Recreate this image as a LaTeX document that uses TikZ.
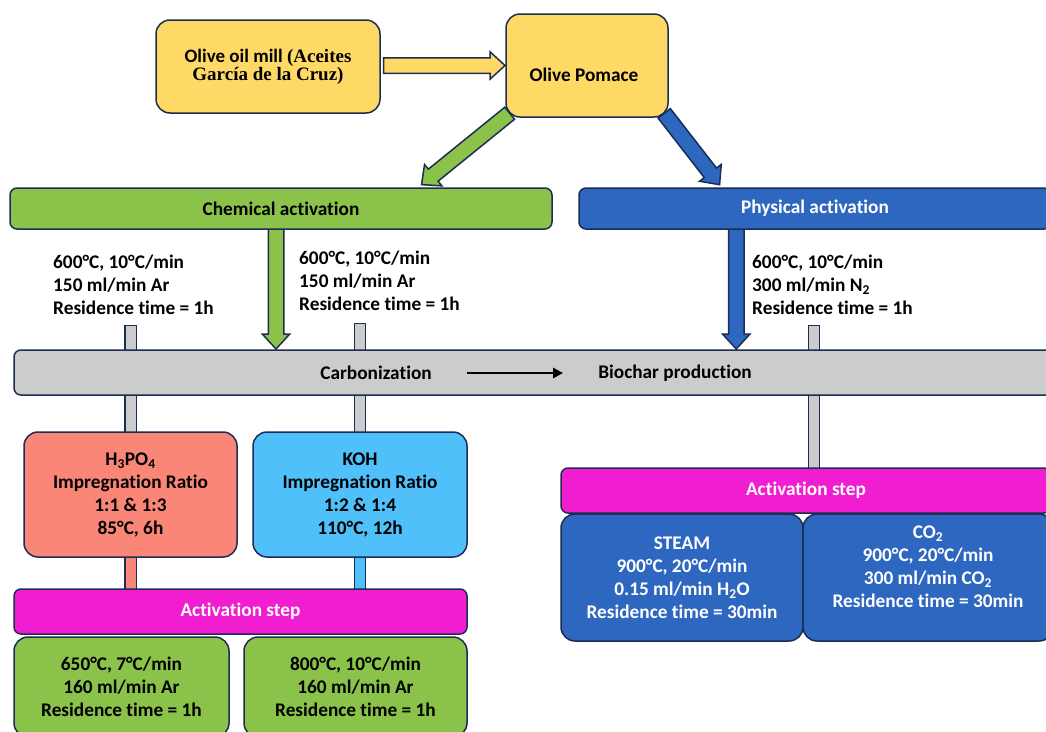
\documentclass[tikz,border=0pt]{standalone}
\usepackage{fontspec}
\setmainfont{Carlito}[Ligatures=NoCommon, RawFeature={-liga;-clig;-calt}]
\newfontfamily\serifbf{Liberation Serif}
\usetikzlibrary{arrows.meta,shapes.arrows,calc,backgrounds}

\definecolor{navy}{RGB}{28,44,82}
\definecolor{oliveyellow}{RGB}{255,217,102}
\definecolor{chemgreen}{RGB}{139,195,74}
\definecolor{physblue}{RGB}{46,103,192}
\definecolor{carbgray}{RGB}{204,204,204}
\definecolor{salmon}{RGB}{250,134,120}
\definecolor{skyblue}{RGB}{80,192,250}
\definecolor{actpink}{RGB}{240,30,208}

% fat outlined arrow from #1 to #2, filled with #3
\newcommand{\bigarrow}[3]{%
  \path let \p1=(#1), \p2=(#2), \n1={atan2(\y2-\y1,\x2-\x1)},
    \n2={veclen(\x2-\x1,\y2-\y1)} in
    node[bigarr, fill=#3, minimum height=\n2, rotate=\n1, anchor=tail] at (\p1) {};}

\tikzset{
  txt/.style={font=\fontsize{19.3}{23}\selectfont\bfseries},
  box/.style={txt, draw=navy, line width=1.5pt, rounded corners=14pt,
    align=center, inner sep=0pt},
  bar/.style={box, rounded corners=7pt},
  info/.style={txt, align=left, inner sep=0pt},
  stem/.style={draw=navy, double=#1, double distance=10pt, line width=1.2pt,
    line cap=rect},
  stem/.default=carbgray,
  bigarr/.style={single arrow, draw=navy, line width=1.5pt,
    single arrow head extend=6pt, single arrow tip angle=85,
    inner sep=0pt, text height=7pt, text depth=7pt}
}

\begin{document}
\begin{tikzpicture}[x=1pt,y=-1pt]
  \useasboundingbox (0,0) rectangle (1046,731);
  \clip (0,0) rectangle (1046,731);

  % Source
  \node[box, fill=oliveyellow, minimum width=224, minimum height=93,
    font=\fontsize{19}{18}\selectfont\bfseries] (mill) at (268,66.5)
    {Olive oil mill {\serifbf(Aceites}\\{\serifbf García de la Cruz)}};
  \node[box, fill=oliveyellow, minimum width=162, minimum height=103] (pomace) at (587,65.5) {};
  \node[txt] (pomacetext) at (584,75) {Olive Pomace};

  % Activation routes
  \node[bar, fill=chemgreen, minimum width=542, minimum height=41] (chem) at (281,208.5) {Chemical activation};
  \node[bar, fill=physblue, text=white, minimum width=472, minimum height=41] (phys) at (815,208.5) {Physical activation};

  % Carbonization conditions
  \node[info, anchor=west] (t1) at (53,285) {600°C, 10°C/min\\150 ml/min Ar\\Residence time = 1h};
  \node[info, anchor=west] (t2) at (299,281) {600°C, 10°C/min\\150 ml/min Ar\\Residence time = 1h};
  \node[info, anchor=west] (t3) at (752,285) {600°C, 10°C/min\\300 ml/min N\textsubscript{2}\\Residence time = 1h};

  % Carbonization
  \node[bar, fill=carbgray, minimum width=1040, minimum height=45] (carb) at (534,372.5) {};
  \node[txt, inner sep=0pt] (cz) at (376,373) {Carbonization};
  \node[txt, inner sep=0pt] (bp) at (675,373) {Biochar production};
  \draw[line width=2.5pt, -{Triangle[length=10pt,width=10pt]}] ($(cz.east)+(35,0)$) -- ($(bp.west)+(-35,0)$);

  % Chemical branch
  \node[box, fill=salmon, minimum width=213, minimum height=125] (h3) at (130.5,494.5)
    {H\textsubscript{3}PO\textsubscript{4}\\Impregnation Ratio\\1:1 \& 1:3\\85°C, 6h};
  \node[box, fill=skyblue, minimum width=214, minimum height=125] (koh) at (360,494.5)
    {KOH\\Impregnation Ratio\\1:2 \& 1:4\\110°C, 12h};
  \node[bar, fill=actpink, text=white, minimum width=453, minimum height=45] (actL) at (240.5,611.5) {Activation step};
  \node[box, fill=chemgreen, minimum width=215, minimum height=100] (g1) at (121.5,687)
    {650°C, 7°C/min\\160 ml/min Ar\\Residence time = 1h};
  \node[box, fill=chemgreen, minimum width=223, minimum height=100] (g2) at (355.5,687)
    {800°C, 10°C/min\\160 ml/min Ar\\Residence time = 1h};

  % Physical branch
  \coordinate (rstub) at (814,0);
  \node[bar, fill=actpink, text=white, minimum width=490, minimum height=45] (actR) at (806,490.5) {Activation step};
  \node[box, fill=physblue, text=white, minimum width=242, minimum height=127] (steam) at (682,577.5)
    {STEAM\\900°C, 20°C/min\\0.15 ml/min H\textsubscript{2}O\\Residence time = 30min};
  \node[box, fill=physblue, minimum width=250, minimum height=127] (co2) at (928,577.5) {};
  \node[txt, text=white, align=center] (co2text) at (928,567)
    {CO\textsubscript{2}\\900°C, 20°C/min\\300 ml/min CO\textsubscript{2}\\Residence time = 30min};

  \begin{pgfonlayer}{background}
    % Arrows
    \bigarrow{$(mill.east)+(2,-1)$}{$(pomace.west)+(-1,0)$}{oliveyellow}
    \bigarrow{$(pomace.south west)+(5,-5)$}{$(chem.north)+(141,-3)$}{chemgreen}
    \bigarrow{$(pomace.south east)+(-5,-5)$}{$(phys.north west)+(141,-3)$}{physblue}
    \bigarrow{$(chem.south)+(-5,-3)$}{$(carb.north -| chem.south)+(-5,-1)$}{chemgreen}
    \bigarrow{$(phys.south west)+(158,-3)$}{$(carb.north -| phys.south west)+(158,-1)$}{physblue}

    % Stems
    \draw[stem] ($(carb.north -| h3.north)+(0,-18)$) -- (carb.north -| h3.north);
    \draw[stem] (carb.south -| h3.north) -- (h3.north);
    \draw[stem] ($(carb.north -| koh.north)+(0,-20)$) -- (carb.north -| koh.north);
    \draw[stem] (carb.south -| koh.north) -- (koh.north);
    \draw[stem] ($(carb.north -| rstub)+(0,-18)$) -- (carb.north -| rstub);
    \draw[stem] (carb.south -| rstub) -- (actR.north -| rstub);
    \draw[stem=salmon] (h3.south) -- (h3.south |- actL.north);
    \draw[stem=skyblue] (koh.south) -- (koh.south |- actL.north);
  \end{pgfonlayer}
\end{tikzpicture}
\end{document}
